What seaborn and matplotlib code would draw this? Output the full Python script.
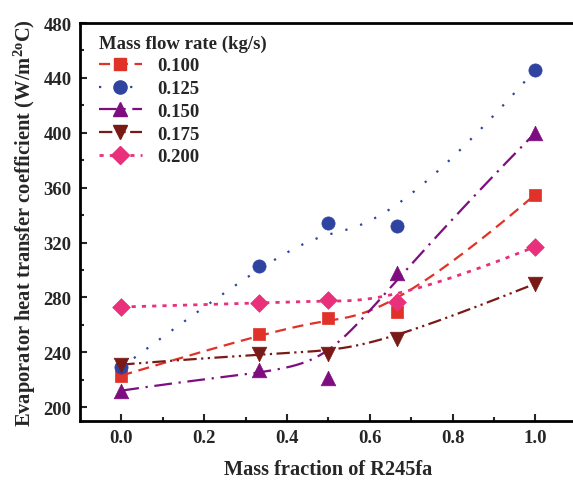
import numpy as np
import pandas as pd
import matplotlib
matplotlib.use("Agg")
import matplotlib.pyplot as plt
import seaborn as sns
from matplotlib.lines import Line2D

# ---- data ----
x_frac = [0.0, 0.333, 0.5, 0.667, 1.0]
flow_labels = ["0.100", "0.125", "0.150", "0.175", "0.200"]
h_0100 = [223, 253, 265, 269, 355]
h_0125 = [229, 303, 334, 332, 446]
h_0150 = [212, 227, 221, 298, 400]
h_0175 = [231, 239, 239, 250, 290]
h_0200 = [273, 276, 278, 277, 317]
series = [h_0100, h_0125, h_0150, h_0175, h_0200]

colors = ["#E03228", "#2E44A0", "#7E0E80", "#7A1A16", "#E8317A"]
markers = ["s", "o", "^", "v", "D"]
msizes = [8.5, 9.5, 10.5, 10.5, 9]
lstyles = [(0, (5, 3)), (0, (1, 6)), (0, (8, 3, 1, 3)), (0, (6, 2, 1, 2, 1, 2)), (0, (1.5, 2.2))]
lwidths = [1.6, 1.6, 1.6, 1.6, 2.0]

sns.set_theme(style="white")
plt.rcParams["font.family"] = ["Liberation Serif", "DejaVu Serif"]
plt.rcParams["font.weight"] = "bold"
plt.rcParams["mathtext.fontset"] = "custom"
plt.rcParams["mathtext.rm"] = "Liberation Serif:bold"
plt.rcParams["mathtext.it"] = "Liberation Serif:bold"
plt.rcParams["mathtext.bf"] = "Liberation Serif:bold"


def bspline(xs, ys, n=200, k=3):
    P = np.column_stack([xs, ys]).astype(float)
    m = len(P)
    inner = np.linspace(0, 1, m - k + 1)[1:-1]
    t = np.concatenate([np.zeros(k + 1), inner, np.ones(k + 1)])
    u = np.linspace(0, 1, n)
    u[-1] = 1 - 1e-12
    N = np.zeros((n, len(t) - 1))
    for i in range(len(t) - 1):
        N[:, i] = ((u >= t[i]) & (u < t[i + 1])).astype(float)
    for d in range(1, k + 1):
        Nn = np.zeros((n, len(t) - 1 - d))
        for i in range(len(t) - 1 - d):
            a = np.zeros(n)
            b = np.zeros(n)
            if t[i + d] - t[i] > 0:
                a = (u - t[i]) / (t[i + d] - t[i]) * N[:, i]
            if t[i + d + 1] - t[i + 1] > 0:
                b = (t[i + d + 1] - u) / (t[i + d + 1] - t[i + 1]) * N[:, i + 1]
            Nn[:, i] = a + b
        N = Nn
    C = N @ P
    return C[:, 0], C[:, 1]


fig = plt.figure(figsize=(5.73, 4.81), dpi=100)
ax = fig.add_axes([0.1395, 0.123, 0.867, 0.827])

handles = []
for ys, lab, c, mk, ms, ls, lw in zip(series, flow_labels, colors, markers, msizes, lstyles, lwidths):
    cx, cy = bspline(x_frac, ys)
    dfc = pd.DataFrame({"x": cx, "y": cy})
    sns.lineplot(data=dfc, x="x", y="y", sort=False, estimator=None, ax=ax,
                 color=c, linewidth=lw, linestyle=ls)
    dfp = pd.DataFrame({"x": x_frac, "y": ys})
    sns.scatterplot(data=dfp, x="x", y="y", ax=ax, marker=mk, s=ms ** 2,
                    color=c, edgecolor=c, linewidth=0.5, zorder=5)
    handles.append(Line2D([], [], color=c, linestyle=ls, linewidth=lw,
                          marker=mk, markersize=ms, markeredgecolor=c, label=lab))

ax.set_xlim(-0.1, 1.1)
ax.set_ylim(190, 480)
ax.set_xticks([0.0, 0.2, 0.4, 0.6, 0.8, 1.0])
ax.set_xticklabels(["0.0", "0.2", "0.4", "0.6", "0.8", "1.0"])
ax.set_xticks([0.1, 0.3, 0.5, 0.7, 0.9], minor=True)
ax.set_yticks(list(range(200, 481, 40)))
ax.set_yticks(list(range(220, 481, 40)), minor=True)
ax.tick_params(axis="both", which="major", direction="in", length=5, width=1.5,
               labelsize=13.5, pad=6, bottom=True, left=True, top=False, right=False)
ax.tick_params(axis="both", which="minor", direction="in", length=3, width=1.5,
               bottom=True, left=True, top=False, right=False)
for lbl in ax.get_xticklabels() + ax.get_yticklabels():
    lbl.set_fontweight("bold")
for name, sp in ax.spines.items():
    sp.set_linewidth(2)
    sp.set_color("black")
ax.spines["right"].set_visible(False)

ax.set_xlabel("Mass fraction of R245fa", fontsize=14.7, fontweight="bold", labelpad=9)
ax.set_ylabel(r"Evaporator heat transfer coefficient (W/m$^{2o}$C)", fontsize=14.8,
              fontweight="bold", labelpad=4)

leg = ax.legend(handles=handles, title="Mass flow rate (kg/s)", loc="upper left",
                bbox_to_anchor=(0.015, 1.0), frameon=False, fontsize=13.5,
                title_fontsize=13.5, handlelength=2.3, labelspacing=0.3,
                handletextpad=0.8, alignment="left", borderaxespad=0.2)
leg.get_title().set_fontweight("bold")
for t in leg.get_texts():
    t.set_fontweight("bold")

fig.savefig("out.png", dpi=100)
